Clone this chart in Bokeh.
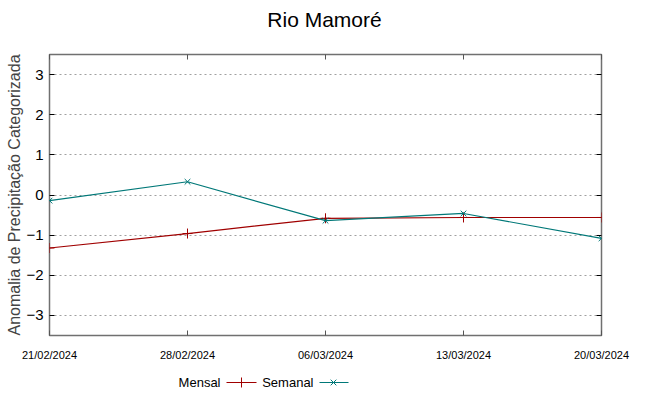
import pandas as pd
from bokeh.plotting import figure
from bokeh.models import (Range1d, FixedTicker, DatetimeTickFormatter, LinearAxis,
                          DatetimeAxis)
from bokeh.layouts import column
from bokeh.core.properties import value
from bokeh.embed import file_html
from bokeh.resources import INLINE

# ---- data ----
title_text = "Rio Mamoré"
y_label = "Anomalia de Precipitação Categorizada"
dates = ["2024-02-21", "2024-02-28", "2024-03-06", "2024-03-13", "2024-03-20"]
series_names = ["Mensal", "Semanal"]
mensal = [-1.32, -0.96, -0.58, -0.56, -0.56]
semanal = [-0.14, 0.33, -0.64, -0.46, -1.08]
y_ticks = [-3, -2, -1, 0, 1, 2, 3]

RED = "#a00000"
TEAL = "#007878"
FONT = "Liberation Sans"
W = 649
FRAME_L, FRAME_R = 49, 601   # column layout aligns all frames to the main chart


def blank_fig(h):
    f = figure(width=W, height=h, output_backend="svg", toolbar_location=None,
               x_range=Range1d(FRAME_L, FRAME_R), y_range=Range1d(0, h),
               x_axis_location=None, y_axis_location=None,
               min_border=0, min_border_left=FRAME_L, min_border_right=W - FRAME_R,
               min_border_top=0, min_border_bottom=0)
    f.grid.visible = False
    f.outline_line_color = None
    f.background_fill_color = "white"
    f.border_fill_color = "white"
    return f


# ---- title ----
tf = blank_fig(36)
tf.text(x=[324], y=[17], text=[title_text], text_align="center",
        text_baseline="middle", text_font=value(FONT), text_font_size="21px",
        text_color="black")

# ---- main chart ----
x = pd.to_datetime(dates)
x_ms = [d.value / 1e6 for d in x]

p = figure(width=W, height=329, output_backend="svg", toolbar_location=None,
           x_axis_type="datetime",
           x_range=Range1d(x[0], x[-1]), y_range=Range1d(-3.5, 3.5),
           min_border_left=FRAME_L, min_border_right=W - FRAME_R, min_border_top=18,
           min_border_bottom=30)
p.background_fill_color = "white"
p.border_fill_color = "white"
p.outline_line_color = "#707070"
p.outline_line_width = 1.5

# x axis
xa = p.xaxis[0]
xa.ticker = FixedTicker(ticks=x_ms)
xa.formatter = DatetimeTickFormatter(days="%d/%m/%Y", months="%d/%m/%Y",
                                     years="%d/%m/%Y", hours="%d/%m/%Y")
xa.major_label_text_font = FONT
xa.major_label_text_font_size = "11px"
xa.major_label_text_color = "black"
xa.major_label_standoff = 13
xa.major_tick_in = 5
xa.major_tick_out = 0
xa.minor_tick_line_color = None
xa.axis_line_color = None
xa.major_tick_line_color = "#555555"

# y axis
ya = p.yaxis[0]
ya.ticker = FixedTicker(ticks=y_ticks)
ya.axis_label = y_label
ya.axis_label_text_font = FONT
ya.axis_label_text_font_size = "16px"
ya.axis_label_text_font_style = "normal"
ya.axis_label_standoff = 0
ya.major_label_text_font = FONT
ya.major_label_text_font_size = "15px"
ya.major_label_text_color = "black"
ya.major_label_standoff = 6
ya.major_tick_in = 5
ya.major_tick_out = 0
ya.minor_tick_line_color = None
ya.axis_line_color = None
ya.major_tick_line_color = "black"

# mirrored axes (ticks only, no labels painted)
ra = LinearAxis(ticker=FixedTicker(ticks=y_ticks), major_label_text_font_size="1px",
                major_label_text_color=None,
                major_tick_in=5, major_tick_out=0, minor_tick_line_color=None,
                axis_line_color=None, major_label_standoff=0,
                major_tick_line_color="black")
p.add_layout(ra, "right")
ta = DatetimeAxis(ticker=FixedTicker(ticks=x_ms), major_label_text_font_size="1px",
                  major_label_text_color=None,
                  major_tick_in=5, major_tick_out=0, minor_tick_line_color=None,
                  axis_line_color=None, major_label_standoff=0,
                  major_tick_line_color="#555555")
p.add_layout(ta, "above")

p.xgrid.grid_line_color = None
p.ygrid.ticker = FixedTicker(ticks=y_ticks)
p.ygrid.grid_line_color = "#a0a0a0"
p.ygrid.grid_line_dash = "2 3"
p.ygrid.grid_line_width = 1

p.line(x, mensal, line_color=RED, line_width=1.2)
p.scatter(x, mensal, marker="cross", size=10, line_color=RED, line_width=1)
p.line(x, semanal, line_color=TEAL, line_width=1.2)
p.scatter(x, semanal, marker="x", size=8, line_color=TEAL, line_width=1)

# ---- legend (below) ----
lg = blank_fig(31)
lg.text(x=[220, 313], y=[14, 14], text=series_names, text_align="right",
        text_baseline="middle", text_font=value(FONT), text_font_size="13px",
        text_color="black")
lg.segment(x0=[226], y0=[14], x1=[256], y1=[14], line_color=RED, line_width=1.2)
lg.scatter(x=[241], y=[14], marker="cross", size=10, line_color=RED)
lg.segment(x0=[319], y0=[14], x1=[348], y1=[14], line_color=TEAL, line_width=1.2)
lg.scatter(x=[333], y=[14], marker="x", size=8, line_color=TEAL)

layout = column(tf, p, lg, spacing=0)
open("out.html", "w").write(file_html(layout, INLINE))
